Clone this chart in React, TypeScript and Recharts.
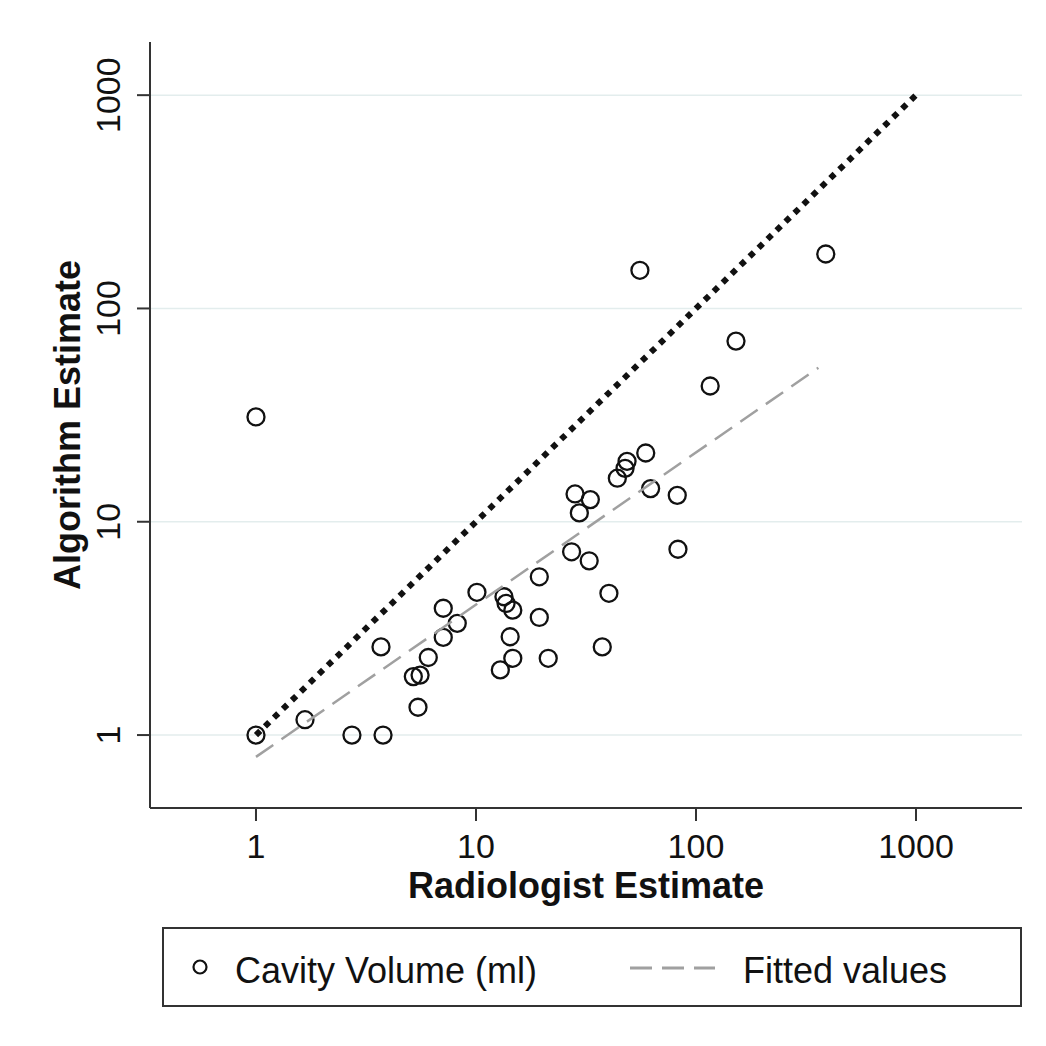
import { ScatterChart, Scatter, XAxis, YAxis, CartesianGrid, Label } from 'recharts';

// Radiologist estimate (x) and algorithm estimate (y)
const radiologist = [
  1, 1, 1.67, 2.73, 3.78, 3.7, 5.19, 5.57, 5.45, 6.07, 7.1, 7.1, 8.22, 10.1,
  12.9, 13.4, 13.7, 14.7, 14.3, 14.7, 19.4, 19.4, 21.3, 27.2, 28.2, 29.5, 33.1,
  32.7, 40.2, 37.5, 43.9, 47.6, 48.6, 59.1, 62.2, 82.2, 82.8, 55.6, 389, 152, 116,
];
const algorithm = [
  1, 31, 1.18, 1, 1, 2.59, 1.88, 1.91, 1.35, 2.31, 3.93, 2.87, 3.34, 4.67,
  2.02, 4.45, 4.14, 3.85, 2.89, 2.29, 5.52, 3.56, 2.29, 7.23, 13.5, 11.0, 12.7,
  6.56, 4.62, 2.59, 16.0, 17.8, 19.2, 21.0, 14.3, 13.3, 7.43, 151, 180, 70.3, 43.3,
];

// fitted values (log-log fit) end points
const fittedX = [1, 360];
const fittedY = [0.79, 52.7];

// line of identity
const identityX = [1, 1000];
const identityY = [1, 1000];

const ticks = [1, 10, 100, 1000];

const points = radiologist.map((x, i) => ({ x, y: algorithm[i] }));
const fitted = fittedX.map((x, i) => ({ x, y: fittedY[i] }));
const identity = identityX.map((x, i) => ({ x, y: identityY[i] }));

const FONT = '"Liberation Sans", Arial, Helvetica, sans-serif';
const INK = '#111';

const circle = (p: any) => (
  <circle cx={p.cx} cy={p.cy} r={8.5} fill="none" stroke={INK} strokeWidth={2.3} />
);
const nothing = () => <g />;

const xTick = ({ x, y, payload }: any) => (
  <text x={x} y={y + 35} textAnchor="middle" fontSize={34} fill={INK} fontFamily={FONT}>
    {payload.value}
  </text>
);

const yTick = ({ x, y, payload }: any) => (
  <text
    transform={`translate(${x - 15},${y}) rotate(-90)`}
    textAnchor="middle"
    fontSize={34}
    fill={INK}
    fontFamily={FONT}
  >
    {payload.value}
  </text>
);

const xLabel = ({ viewBox }: any) => (
  <text
    x={viewBox.x + viewBox.width / 2}
    y={viewBox.y + 90}
    textAnchor="middle"
    fontSize={36}
    fontWeight="bold"
    fill={INK}
    fontFamily={FONT}
  >
    Radiologist Estimate
  </text>
);

const yLabel = ({ viewBox }: any) => (
  <text
    transform={`translate(80,${viewBox.y + viewBox.height / 2}) rotate(-90)`}
    textAnchor="middle"
    fontSize={36}
    fontWeight="bold"
    fill={INK}
    fontFamily={FONT}
  >
    Algorithm Estimate
  </text>
);

export default function App() {
  return (
    <div style={{ position: 'absolute', left: 0, top: 0, width: 1046, height: 1046, background: '#fff' }}>
      <ScatterChart width={1046} height={1046} margin={{ top: 42, right: 24, bottom: 0, left: 0 }}>
        <CartesianGrid vertical={false} horizontalValues={ticks} stroke="#e3eded" strokeWidth={1.5} />
        <XAxis
          type="number"
          dataKey="x"
          scale="log"
          domain={[0.3298, 3033]}
          allowDataOverflow
          ticks={ticks}
          height={238}
          tick={xTick}
          tickSize={13}
          axisLine={{ stroke: '#333', strokeWidth: 2 }}
          tickLine={{ stroke: '#333', strokeWidth: 2 }}
        >
          <Label content={xLabel} />
        </XAxis>
        <YAxis
          type="number"
          dataKey="y"
          scale="log"
          domain={[0.455, 1775]}
          allowDataOverflow
          ticks={ticks}
          width={150}
          tick={yTick}
          tickSize={13}
          axisLine={{ stroke: '#333', strokeWidth: 2 }}
          tickLine={{ stroke: '#333', strokeWidth: 2 }}
        >
          <Label content={yLabel} />
        </YAxis>
        <Scatter data={points} shape={circle} isAnimationActive={false} />
        <Scatter
          data={fitted}
          shape={nothing}
          line={{ stroke: '#a0a0a0', strokeWidth: 2.5, strokeDasharray: '21 10' }}
          isAnimationActive={false}
        />
        <Scatter
          data={identity}
          shape={nothing}
          line={{ stroke: '#111', strokeWidth: 6, strokeDasharray: '6 6.5' }}
          isAnimationActive={false}
        />
      </ScatterChart>
      <div
        style={{
          position: 'absolute',
          left: 162,
          top: 927,
          width: 860,
          height: 80,
          boxSizing: 'border-box',
          border: '2px solid #333',
          fontFamily: FONT,
          fontSize: 36,
          color: INK,
        }}
      >
        <svg width={860} height={80} style={{ position: 'absolute', left: -2, top: -2 }}>
          <circle cx={38} cy={40} r={6.5} fill="none" stroke={INK} strokeWidth={2.2} />
          <text x={73} y={56} fontSize={36} fill={INK} fontFamily={FONT}>
            Cavity Volume (ml)
          </text>
          <line x1={468} y1={41} x2={553} y2={41} stroke="#a0a0a0" strokeWidth={3} strokeDasharray="22 10" />
          <text x={581} y={56} fontSize={36} fill={INK} fontFamily={FONT}>
            Fitted values
          </text>
        </svg>
      </div>
    </div>
  );
}
